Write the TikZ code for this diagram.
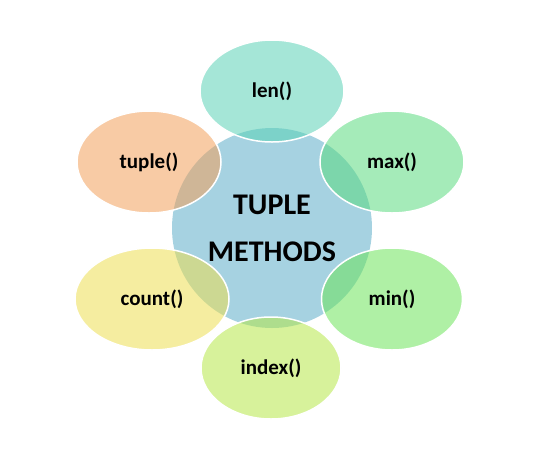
\documentclass[tikz,border=0pt]{standalone}
\usepackage{fontspec}
\setmainfont{Carlito}
\usepackage{tikz}
\usetikzlibrary{shapes.geometric}
\definecolor{hubblue}{RGB}{166,210,225}
\definecolor{lencol}{RGB}{91,210,182}
\definecolor{maxcol}{RGB}{91,219,128}
\definecolor{mincol}{RGB}{109,228,91}
\definecolor{indexcol}{RGB}{182,231,73}
\definecolor{countcol}{RGB}{237,222,82}
\definecolor{tuplecol}{RGB}{242,160,91}
\tikzset{method/.style = {ellipse, draw=white, line width=1.5pt,
  minimum width=144pt, minimum height=102pt, inner sep=0pt,
  fill opacity=0.55, draw opacity=1, text opacity=1,
  font=\fontsize{21}{25}\selectfont\bfseries}}

\begin{document}
\begin{tikzpicture}[x=1pt,y=-1pt]
  \useasboundingbox (0,0) rectangle (555,459);

  \node[circle, fill=hubblue, minimum size=200pt, inner sep=0pt,
        align=center, font=\fontsize{30}{47}\selectfont\bfseries]
        (hub) at (272,228) {TUPLE\\METHODS};

  \node[method, fill=lencol] (len) at (272,91) {len()};
  \node[method, fill=maxcol] (max) at (392,162) {max()};
  \node[method, fill=mincol, minimum width=141pt] (min) at (392,299) {min()};
  \node[method, fill=indexcol, minimum width=140pt] (index) at (271,368) {index()};
  \node[method, fill=countcol, minimum width=154pt] (count) at (152,299) {count()};
  \node[method, fill=tuplecol] (tuple) at (149,162) {tuple()};

\end{tikzpicture}
\end{document}
